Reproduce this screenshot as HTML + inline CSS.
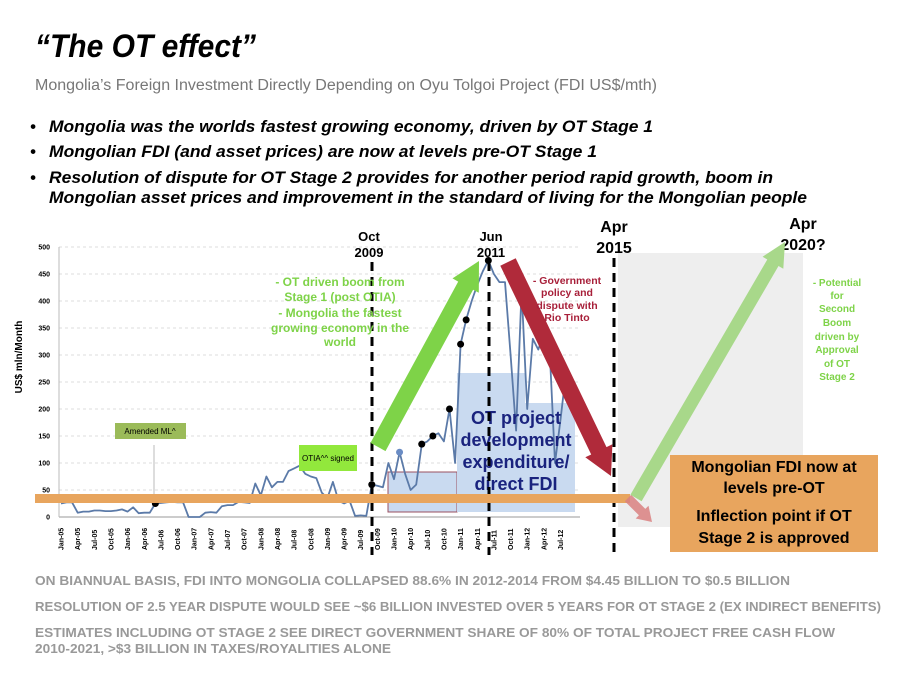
<!DOCTYPE html>
<html><head><meta charset="utf-8"><style>
body{margin:0;background:#fff;}
svg{display:block;font-family:"Liberation Sans",sans-serif;}
</style></head><body>
<svg id="s" width="900" height="675" viewBox="0 0 900 675" xmlns="http://www.w3.org/2000/svg">
<text x="35" y="57" font-size="32" font-style="italic" font-weight="bold" textLength="221" lengthAdjust="spacingAndGlyphs">“The OT effect”</text>
<text x="35" y="90" font-size="15.5" fill="#777" textLength="622" lengthAdjust="spacingAndGlyphs">Mongolia’s Foreign Investment Directly Depending on Oyu Tolgoi Project (FDI US$/mth)</text>
<g font-size="16.5" font-style="italic" font-weight="bold">
<text x="30" y="132">•</text><text x="49" y="132" textLength="604" lengthAdjust="spacingAndGlyphs">Mongolia was the worlds fastest growing economy, driven by OT Stage 1</text>
<text x="30" y="157">•</text><text x="49" y="157" textLength="548" lengthAdjust="spacingAndGlyphs">Mongolian FDI (and asset prices) are now at levels pre-OT Stage 1</text>
<text x="30" y="183">•</text><text x="49" y="183" textLength="724" lengthAdjust="spacingAndGlyphs">Resolution of dispute for OT Stage 2 provides for another period rapid growth, boom in</text>
<text x="49" y="203" textLength="758" lengthAdjust="spacingAndGlyphs">Mongolian asset prices and improvement in the standard of living for the Mongolian people</text>
</g>
<rect x="618" y="253" width="185" height="274" fill="#eeeeee"/>
<g id="grid"></g>
<g id="yt" font-size="7" font-weight="bold" text-anchor="end"></g>
<g id="xt" font-size="7" font-weight="bold"></g>
<text transform="translate(22,357) rotate(-90)" font-size="10" font-weight="bold" text-anchor="middle">US$ mln/Month</text>
<path d="M388,472 H457 V512 H388 Z" fill="#c9daf0" stroke="#9a5060" stroke-width="1"/>
<path d="M457,373 H525 V403 H575 V512 H457 Z" fill="#c9daf0"/>
<g id="series"></g>
<text font-size="18" font-weight="bold" fill="#1a237e" text-anchor="middle"><tspan x="516" y="424">OT project</tspan><tspan x="516" y="446">development</tspan><tspan x="516" y="468">expenditure/</tspan><tspan x="516" y="490">direct FDI</tspan></text>
<g stroke="#000" stroke-width="3" stroke-dasharray="9,6">
<line x1="372" y1="262" x2="372" y2="555"/><line x1="489" y1="262" x2="489" y2="555"/><line x1="614" y1="258" x2="614" y2="555"/>
</g>
<g font-weight="bold" text-anchor="middle">
<text x="369" y="241" font-size="13">Oct</text><text x="369" y="257" font-size="13">2009</text>
<text x="491" y="241" font-size="13">Jun</text><text x="491" y="257" font-size="13">2011</text>
<text x="614" y="232" font-size="16">Apr</text><text x="614" y="253" font-size="16">2015</text>
<text x="803" y="229" font-size="16">Apr</text><text x="803" y="250" font-size="16">2020?</text>
</g>
<rect x="35" y="494" width="595" height="9" fill="#e8a55e"/>
<polygon id="a4" fill="#d98080" opacity="0.85"/>
<polygon id="a1" fill="#7ed348"/>
<polygon id="a2" fill="#b02a3a"/>
<polygon id="a3" fill="#a8d88a"/>
<rect x="670" y="455" width="208" height="97" fill="#e8a55e"/>
<text font-size="16" font-weight="bold" text-anchor="middle"><tspan x="774" y="472">Mongolian FDI now at</tspan><tspan x="774" y="493">levels pre-OT</tspan><tspan x="774" y="521">Inflection point if OT</tspan><tspan x="774" y="543">Stage 2 is approved</tspan></text>
<text font-size="12" font-weight="bold" fill="#7ed348" text-anchor="middle"><tspan x="340" y="286">- OT driven boom from</tspan><tspan x="340" y="301">Stage 1 (post OTIA)</tspan><tspan x="340" y="317">- Mongolia the fastest</tspan><tspan x="340" y="332">growing economy in the</tspan><tspan x="340" y="346">world</tspan></text>
<text font-size="10.5" font-weight="bold" fill="#a8203a" text-anchor="middle"><tspan x="567" y="284">- Government</tspan><tspan x="567" y="296">policy and</tspan><tspan x="567" y="309">dispute with</tspan><tspan x="567" y="321">Rio Tinto</tspan></text>
<text font-size="10" font-weight="bold" fill="#7ed348" text-anchor="middle"><tspan x="837" y="286">- Potential</tspan><tspan x="837" y="299">for</tspan><tspan x="837" y="312">Second</tspan><tspan x="837" y="326">Boom</tspan><tspan x="837" y="340">driven by</tspan><tspan x="837" y="353">Approval</tspan><tspan x="837" y="367">of OT</tspan><tspan x="837" y="380">Stage 2</tspan></text>
<rect x="115" y="423" width="71" height="16" fill="#9bbb59"/>
<text x="150" y="434" font-size="8" text-anchor="middle">Amended ML^</text>
<line x1="154" y1="445" x2="154" y2="494" stroke="#bbb"/>
<rect x="299" y="445" width="58" height="26" fill="#92e83c"/>
<text x="328" y="461" font-size="8" text-anchor="middle">OTIA^^ signed</text>
<g font-size="12.5" font-weight="bold" fill="#999">
<text x="35" y="585" textLength="755" lengthAdjust="spacingAndGlyphs">ON BIANNUAL BASIS, FDI INTO MONGOLIA COLLAPSED 88.6% IN 2012-2014 FROM $4.45 BILLION TO $0.5 BILLION</text>
<text x="35" y="611" textLength="846" lengthAdjust="spacingAndGlyphs">RESOLUTION OF 2.5 YEAR DISPUTE WOULD SEE ~$6 BILLION INVESTED OVER 5 YEARS FOR OT STAGE 2 (EX INDIRECT BENEFITS)</text>
<text x="35" y="637" textLength="800" lengthAdjust="spacingAndGlyphs">ESTIMATES INCLUDING OT STAGE 2 SEE DIRECT GOVERNMENT SHARE OF 80% OF TOTAL PROJECT FREE CASH FLOW</text>
<text x="35" y="653" textLength="356" lengthAdjust="spacingAndGlyphs">2010-2021, &gt;$3 BILLION IN TAXES/ROYALITIES ALONE</text>
</g>
</svg>
<script>
const fdiValues=[25,27,27,8,10,10,12,12,11,11,12,14,10,18,7,8,8,25,26,27,28,27,27,0,0,0,8,9,8,20,22,22,28,27,26,62,40,75,55,65,65,85,90,95,80,75,72,45,35,65,30,25,30,2,3,2,60,58,55,100,70,120,80,50,60,135,140,150,155,140,200,100,320,365,400,430,455,475,450,435,435,300,160,420,200,330,310,340,320,100,180,268,240];
const yTicks=[0,50,100,150,200,250,300,350,400,450,500];
const xTickLabels=["Jan-05","Apr-05","Jul-05","Oct-05","Jan-06","Apr-06","Jul-06","Oct-06","Jan-07","Apr-07","Jul-07","Oct-07","Jan-08","Apr-08","Jul-08","Oct-08","Jan-09","Apr-09","Jul-09","Oct-09","Jan-10","Apr-10","Jul-10","Oct-10","Jan-11","Apr-11","Jul-11","Oct-11","Jan-12","Apr-12","Jul-12"];
const blackDots=[17,56,65,67,70,72,73,77,87];
const blueDots=[61,88];
const NS="http://www.w3.org/2000/svg";
const X=m=>61+m*5.55, Y=v=>517-v*0.54;
function mk(t,a,p){const e=document.createElementNS(NS,t);for(const k in a)e.setAttribute(k,a[k]);p.appendChild(e);return e;}
function arrow(id,x1,y1,x2,y2,w,hw,hl){
 const dx=x2-x1,dy=y2-y1,L=Math.hypot(dx,dy),ux=dx/L,uy=dy/L,nx=-uy,ny=ux;
 const bx=x2-ux*hl,by=y2-uy*hl;
 const pts=[[x1+nx*w/2,y1+ny*w/2],[bx+nx*w/2,by+ny*w/2],[bx+nx*hw/2,by+ny*hw/2],[x2,y2],[bx-nx*hw/2,by-ny*hw/2],[bx-nx*w/2,by-ny*w/2],[x1-nx*w/2,y1-ny*w/2]];
 document.getElementById(id).setAttribute('points',pts.map(p=>p[0].toFixed(1)+','+p[1].toFixed(1)).join(' '));
}
arrow('a1',378,447,479,261,17,30,28);
arrow('a2',508,262,611,476,17,30,28);
arrow('a3',636,498,785,242,13,24,24);
arrow('a4',628,498,652,522,9,18,14);
const grid=document.getElementById('grid'),yt=document.getElementById('yt'),xt=document.getElementById('xt'),ser=document.getElementById('series');
yTicks.forEach(v=>{
 const l=mk('line',{x1:59,x2:580,y1:Y(v),y2:Y(v),stroke:v?'#ddd':'#999','stroke-dasharray':v?'3,3':''},grid);
 
 
 const t=mk('text',{x:50,y:Y(v)+2.5},yt);t.textContent=v;
 
 
});
mk('line',{x1:59,x2:59,y1:Y(500),y2:517,stroke:'#bbb'},grid);
xTickLabels.forEach((s,i)=>{
 const x=X(i*3);
 const t=mk('text',{transform:`translate(${x+2.5},${550}) rotate(-90)`},xt);t.textContent=s;
 
 
});
let d='';
fdiValues.forEach((v,i)=>{d+=(i?'L':'M')+X(i).toFixed(1)+','+Y(v).toFixed(1);});
const p=mk('path',{d:d,fill:'none',stroke:'#5b7aa8','stroke-width':1.8,'stroke-linejoin':'round'},ser);


blackDots.forEach(i=>{const c=mk('circle',{cx:X(i),cy:Y(fdiValues[i]),r:3.5,fill:'#000'},ser);
 
 });
blueDots.forEach(i=>{const c=mk('circle',{cx:X(i),cy:Y(fdiValues[i]),r:3.5,fill:'#6a8cc4'},ser);
 
 });
</script>
</body></html>
